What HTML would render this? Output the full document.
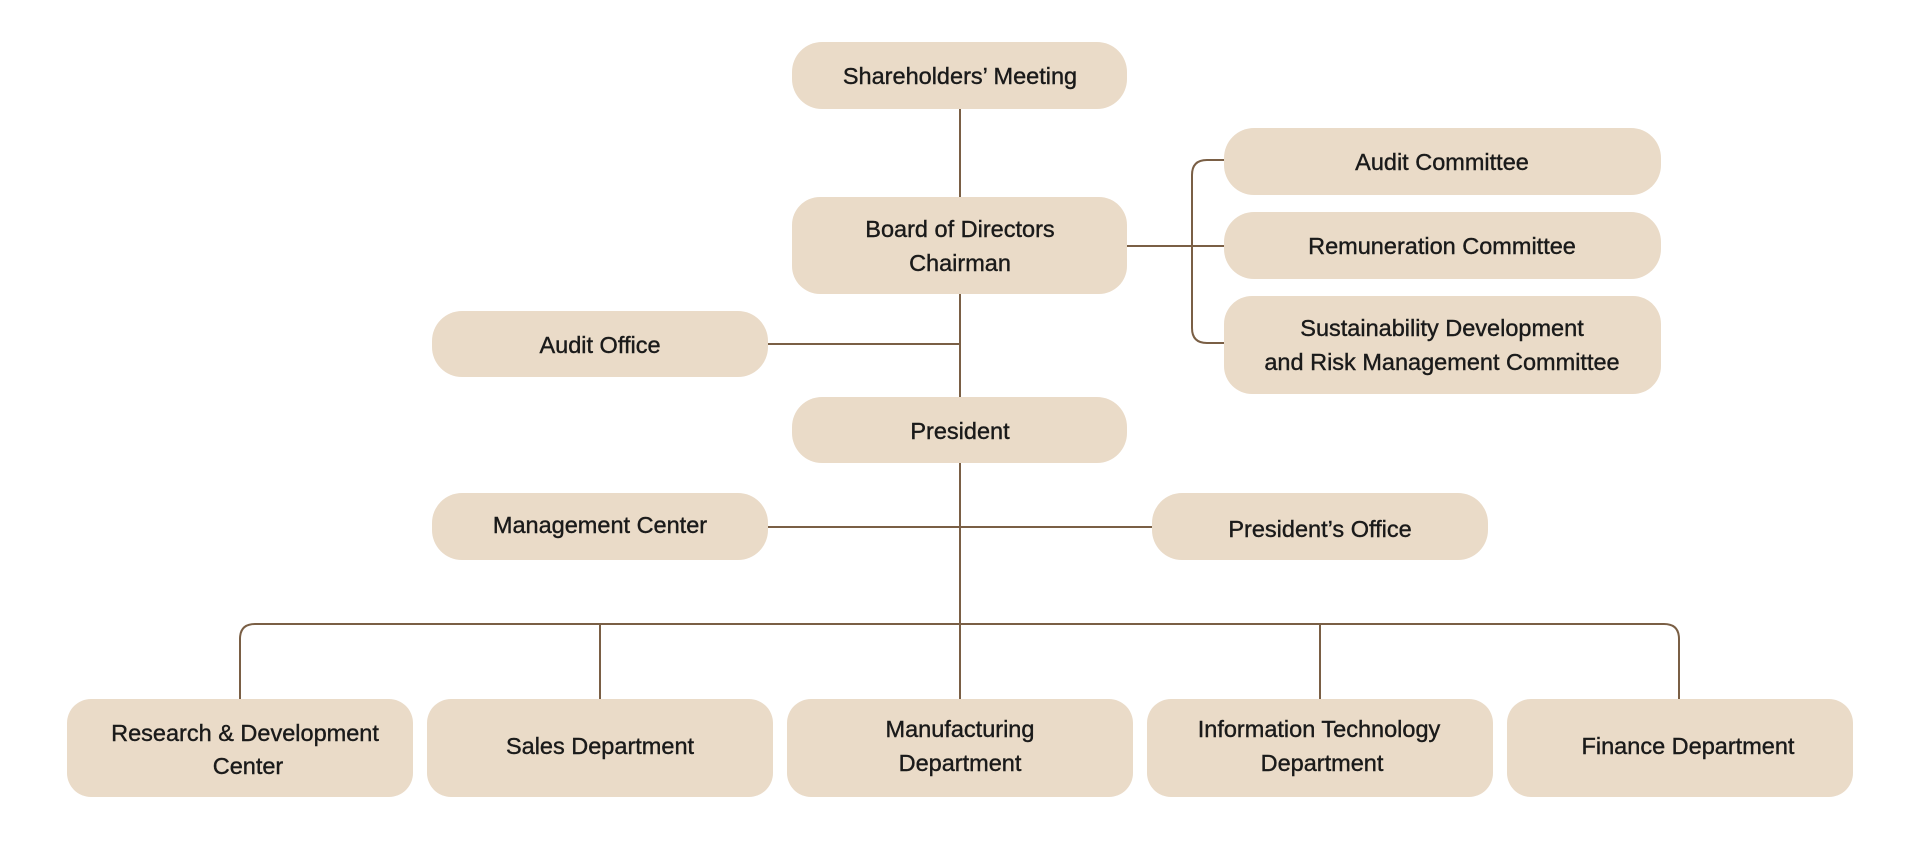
<!DOCTYPE html>
<html><head><meta charset="utf-8"><style>
html,body{margin:0;padding:0;background:#fff;}
svg text{font-family:"Liberation Sans",sans-serif;font-size:23.5px;fill:#1a1a1a;stroke:#1a1a1a;stroke-width:0.4px;text-anchor:middle;}
</style></head><body>
<svg width="1920" height="840" viewBox="0 0 1920 840" xmlns="http://www.w3.org/2000/svg">
<g stroke="#7a5f45" stroke-width="2" fill="none">
<line x1="960" y1="109" x2="960" y2="197"/>
<line x1="960" y1="294" x2="960" y2="397"/>
<line x1="768" y1="344" x2="960" y2="344"/>
<line x1="1127" y1="246" x2="1224" y2="246"/>
<path d="M1224 160 H1207 Q1192 160 1192 175 V328 Q1192 343 1207 343 H1224"/>
<line x1="960" y1="463" x2="960" y2="699"/>
<line x1="768" y1="527" x2="1152" y2="527"/>
<path d="M240 699 V639 Q240 624 255 624 H1664 Q1679 624 1679 639 V699"/>
<line x1="600" y1="624" x2="600" y2="699"/>
<line x1="1320" y1="624" x2="1320" y2="699"/>
</g>
<g fill="#eadbc8">
<rect x="792" y="42" width="335" height="67" rx="30"/>
<rect x="792" y="197" width="335" height="97" rx="28"/>
<rect x="1224" y="128" width="437" height="67" rx="30"/>
<rect x="1224" y="212" width="437" height="67" rx="30"/>
<rect x="1224" y="296" width="437" height="98" rx="28"/>
<rect x="432" y="311" width="336" height="66" rx="30"/>
<rect x="792" y="397" width="335" height="66" rx="30"/>
<rect x="432" y="493" width="336" height="67" rx="30"/>
<rect x="1152" y="493" width="336" height="67" rx="30"/>
<rect x="67" y="699" width="346" height="98" rx="24"/>
<rect x="427" y="699" width="346" height="98" rx="24"/>
<rect x="787" y="699" width="346" height="98" rx="24"/>
<rect x="1147" y="699" width="346" height="98" rx="24"/>
<rect x="1507" y="699" width="346" height="98" rx="24"/>
</g>
<text x="960" y="84">Shareholders’ Meeting</text>
<text x="960" y="237">Board of Directors</text>
<text x="960" y="271">Chairman</text>
<text x="1442" y="170">Audit Committee</text>
<text x="1442" y="254">Remuneration Committee</text>
<text x="1442" y="336">Sustainability Development</text>
<text x="1442" y="370">and Risk Management Committee</text>
<text x="600" y="353">Audit Office</text>
<text x="960" y="439">President</text>
<text x="600" y="533">Management Center</text>
<text x="1320" y="537">President’s Office</text>
<text x="245" y="741">Research &amp; Development</text>
<text x="248" y="774">Center</text>
<text x="600" y="754">Sales Department</text>
<text x="960" y="737">Manufacturing</text>
<text x="960" y="771">Department</text>
<text x="1319" y="737">Information Technology</text>
<text x="1322" y="771">Department</text>
<text x="1688" y="754">Finance Department</text>
</svg>
</body></html>
